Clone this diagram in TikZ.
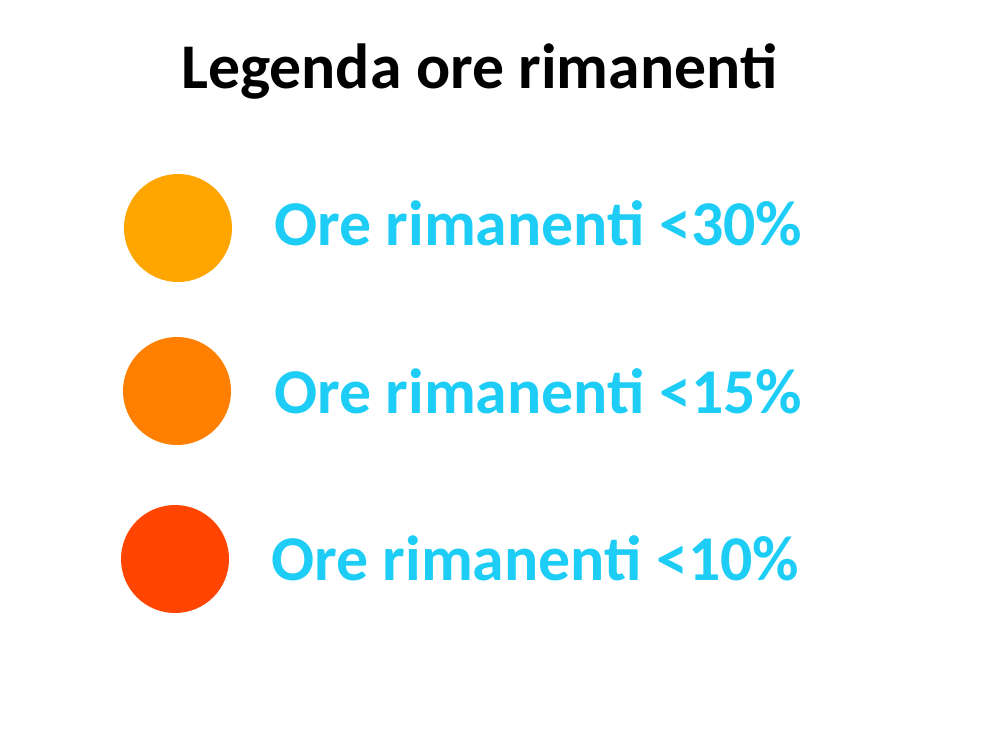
\documentclass[tikz,border=0pt]{standalone}
\usepackage{fontspec}
\setmainfont{Carlito}
\definecolor{c30}{HTML}{FFA500}
\definecolor{c15}{HTML}{FF8000}
\definecolor{c10}{HTML}{FF4500}
\definecolor{txt}{HTML}{1ECDF5}
\begin{document}
\begin{tikzpicture}[x=1pt,y=-1pt,
  dot/.style={circle,inner sep=0pt,minimum size=108pt},
  lbl/.style={anchor=base west,inner sep=0pt,text=txt,font=\bfseries\fontsize{63.8}{70}\selectfont}]
\useasboundingbox (0,0) rectangle (1000,750);
\node[anchor=base west,inner sep=0pt,font=\bfseries\fontsize{63.7}{70}\selectfont] (title) at (181,88) {Legenda ore rimanenti};
\node[dot,fill=c30] (d1) at (178,228) {};
\node[dot,fill=c15] (d2) at (177,391) {};
\node[dot,fill=c10] (d3) at (175,559) {};
\node[lbl] (t1) at (274,245) {Ore rimanenti <30\%};
\node[lbl] (t2) at (274,413) {Ore rimanenti <15\%};
\node[lbl] (t3) at (271,580) {Ore rimanenti <10\%};
\end{tikzpicture}
\end{document}
